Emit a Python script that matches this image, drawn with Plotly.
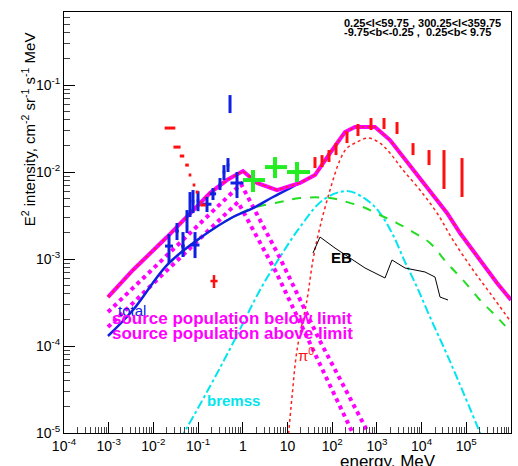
import numpy as np
import plotly.graph_objects as go

# ---------------- data (log10 of energy [MeV] and of E^2 intensity) ----------------
total_lx = [-3.016, -2.456, -1.696, -1.181, -0.734, -0.353, 0.004, 0.318, 0.765, 1.280, 1.615,
            1.951, 2.286, 2.510, 2.957, 3.293, 3.673, 4.121, 4.568, 4.859, 5.306, 5.687, 6.0]
total_ly = [-3.437, -3.126, -2.747, -2.471, -2.241, -2.092, -1.989, -2.126, -2.207, -2.126, -2.034,
            -1.782, -1.540, -1.483, -1.483, -1.632, -1.885, -2.172, -2.471, -2.701, -3.011, -3.276, -3.471]

diffuse_lx = [-3.016, -2.456, -1.696, -0.957, -0.219, 0.228, 0.676, 1.280, 1.615]
diffuse_ly = [-3.885, -3.586, -3.069, -2.759, -2.517, -2.414, -2.287, -2.126, -2.034]

ic_lx = [-1.696, -0.957, 0.094, 0.832, 1.280, 1.951, 2.331, 2.689, 3.069, 3.450, 3.808, 4.188,
         4.568, 4.926, 5.306, 5.597, 6.0]
ic_ly = [-3.069, -2.759, -2.437, -2.345, -2.299, -2.299, -2.345, -2.402, -2.494, -2.586, -2.690,
         -2.816, -3.046, -3.241, -3.471, -3.621, -3.839]

bremss_lx = [-1.405, -0.779, -0.219, 0.385, 0.832, 1.280, 1.794, 2.331, 2.779, 3.069, 3.360, 3.629,
             3.897, 4.188, 4.523, 4.814, 5.374]
bremss_ly = [-5.080, -4.506, -3.966, -3.356, -2.977, -2.632, -2.322, -2.218, -2.322, -2.471, -2.724,
             -3.034, -3.322, -3.667, -4.046, -4.391, -5.080]

pi0_lx = [1.011, 1.101, 1.213, 1.436, 1.570, 1.727, 1.951, 2.174, 2.331, 2.555, 2.801, 3.069, 3.293,
          3.584, 3.964, 4.345, 4.702, 5.150, 5.530, 6.0]
pi0_ly = [-5.08, -4.586, -4.046, -3.471, -3.011, -2.632, -2.207, -1.862, -1.724, -1.655, -1.609,
          -1.667, -1.782, -1.977, -2.207, -2.471, -2.782, -3.126, -3.391, -3.724]

eb_lx = [1.570, 1.727, 2.063, 2.398, 2.734, 3.181, 3.338, 3.629, 4.076, 4.300, 4.412, 4.591]
eb_ly = [-2.931, -2.747, -2.874, -2.989, -3.103, -3.218, -3.011, -3.103, -3.149, -3.207, -3.437, -3.471]

src_above_lx = [-3.016, -0.040, 0.832, 1.727, 2.890]
src_above_ly = [-3.609, -2.138, -2.989, -3.943, -5.080]
src_below_lx = [-3.016, -0.107, 0.743, 1.548, 2.532]
src_below_ly = [-3.782, -2.345, -3.149, -4.023, -5.080]

# blue data (log E, log I lo, log I hi, log I centre, half width in dex)
blue_lx = [-1.651, -1.472, -1.338, -1.248, -1.181, -1.069, -1.114, -1.002, -0.801, -0.667, -0.510,
           -0.421, -0.331, -0.130, -0.286]
blue_lo = [-3.046, -2.782, -2.977, -2.701, -2.517, -2.989, -2.471, -2.450, -2.460, -2.322, -2.207,
           -2.092, -2.000, -2.299, -1.322]
blue_hi = [-2.713, -2.586, -2.690, -2.437, -2.230, -2.690, -2.207, -2.220, -2.287, -2.184, -2.069,
           -1.920, -1.839, -2.000, -1.115]
blue_c = [-2.851, -2.678, -2.851, -2.570, -2.370, -2.839, -2.340, -2.330, -2.370, -2.250, -2.140,
          -2.000, -1.920, -2.126, -1.220]
blue_xw = [0.09, 0.04, 0.04, 0.0, 0.0, 0.10, 0.03, 0.03, 0.10, 0.07, 0.03, 0.03, 0.03, 0.145, 0.0]

# red high-energy bars
red_lx = [1.615, 1.772, 1.928, 2.085, 2.331, 2.577, 2.868, 3.159, 3.450, 3.808, 4.166, 4.501, 4.904]
red_lo = [-1.954, -1.943, -1.885, -1.805, -1.667, -1.586, -1.517, -1.506, -1.563, -1.805, -1.920,
          -2.195, -2.287]
red_hi = [-1.828, -1.805, -1.747, -1.667, -1.540, -1.448, -1.379, -1.379, -1.425, -1.667, -1.747,
          -1.747, -1.839]

# red low-energy dashes
redlow_lx = [-1.629, -1.472, -1.360, -1.248, -1.181, -1.092, -1.025, -0.890]
redlow_ly = [-1.494, -1.713, -1.816, -1.920, -2.034, -2.149, -2.230, -2.379]
redlow_xw = [0.12, 0.08, 0.05, 0.04, 0.03, 0.03, 0.03, 0.06]

# single red cross
redx_lx = [-0.644]
redx_ly = [-3.253]
redx_lo = [-3.333]
redx_hi = [-3.184]
redx_xw = [0.08]

# green crosses
green_lx = [0.228, 0.720, 1.213]
green_xlo = [0.004, 0.497, 0.989]
green_xhi = [0.497, 0.989, 1.503]
green_ly = [-2.092, -1.943, -2.000]
green_lo = [-2.230, -2.069, -2.115]
green_hi = [-1.977, -1.828, -1.885]

x_tick_exp = list(range(-4, 7))
y_tick_exp = list(range(-5, 0))


def p(a):
    return 10 ** np.asarray(a, dtype=float)


FONT = "Liberation Sans, Arial, Helvetica, sans-serif"
fig = go.Figure()


def line(lx, ly, color, width, dash="solid", shape="linear"):
    fig.add_trace(go.Scatter(x=p(lx), y=p(ly), mode="lines",
                             line=dict(color=color, width=width, dash=dash, shape=shape),
                             hoverinfo="skip", showlegend=False))


def points(lx, ly, color, thick, ylo=None, yhi=None, xlo=None, xhi=None):
    x = p(lx)
    y = p(ly)
    kw = {}
    if ylo is not None:
        kw["error_y"] = dict(type="data", symmetric=False, array=p(yhi) - y,
                             arrayminus=y - p(ylo), color=color, thickness=thick, width=0)
    if xlo is not None:
        kw["error_x"] = dict(type="data", symmetric=False, array=p(xhi) - x,
                             arrayminus=x - p(xlo), color=color, thickness=thick, width=0)
    fig.add_trace(go.Scatter(x=x, y=y, mode="markers",
                             marker=dict(size=1, color=color, opacity=0),
                             hoverinfo="skip", showlegend=False, **kw))


# model curves
line(bremss_lx, bremss_ly, "#00e5ee", 2, "dashdot", "spline")
line(ic_lx, ic_ly, "#22dd22", 2, "dash", "spline")
line(pi0_lx, pi0_ly, "#ff2020", 1.5, "dot", "spline")
line(eb_lx, eb_ly, "black", 1)
line(src_below_lx, src_below_ly, "#ff00ff", 4, "dot")
line(src_above_lx, src_above_ly, "#ff00ff", 4, "dot")
line(diffuse_lx, diffuse_ly, "#1020e0", 2.5, "solid", "spline")
line(total_lx, total_ly, "#ff00ff", 4, "solid")
line(total_lx, total_ly, "#ff2020", 1.5, "dot")

# data points
blo = np.array(blue_lx)
bxw = np.array(blue_xw)
points(blue_lx, blue_c, "#1020e0", 3, blue_lo, blue_hi, blo - bxw, blo + bxw)
rlo = np.array(redlow_lx)
rxw = np.array(redlow_xw)
points(redlow_lx, redlow_ly, "#ff1010", 3, None, None, rlo - rxw, rlo + rxw)
rc = (np.array(red_lo) + np.array(red_hi)) / 2
points(red_lx, rc, "#ff1010", 3, red_lo, red_hi)
xx = np.array(redx_lx)
points(redx_lx, redx_ly, "#ff1010", 2.5, redx_lo, redx_hi, xx - np.array(redx_xw), xx + np.array(redx_xw))
points(green_lx, green_ly, "#22ee22", 4, green_lo, green_hi, green_xlo, green_xhi)


def tick_text(e):
    if e == 0:
        return "1"
    if e == 1:
        return "10"
    return f"10<sup>{e}</sup>"


def minor_vals(lo, hi):
    out = []
    for e in range(lo, hi):
        for m in range(2, 10):
            out.append(m * 10.0 ** e)
    return out


fig.update_xaxes(type="log", range=[-4, 6], showgrid=False, zeroline=False,
                 showline=True, linecolor="black", linewidth=1, mirror=True,
                 tickvals=[10.0 ** e for e in x_tick_exp], ticktext=[tick_text(e) for e in x_tick_exp],
                 ticks="inside", ticklen=11, tickcolor="black", tickwidth=1,
                 minor=dict(tickvals=minor_vals(-4, 6), ticks="inside", ticklen=6,
                            tickcolor="#444", tickwidth=1, showgrid=False),
                 tickfont=dict(family=FONT, size=14, color="black"))
fig.update_yaxes(type="log", range=[-5, -0.16], showgrid=False, zeroline=False,
                 showline=True, linecolor="black", linewidth=1, mirror=True,
                 tickvals=[10.0 ** e for e in y_tick_exp], ticktext=[tick_text(e) for e in y_tick_exp],
                 ticks="inside", ticklen=11, tickcolor="black", tickwidth=1,
                 minor=dict(tickvals=minor_vals(-5, 0), ticks="inside", ticklen=6,
                            tickcolor="#444", tickwidth=1, showgrid=False),
                 tickfont=dict(family=FONT, size=14, color="black"))

ann = []


def label(text, x, y, color, size, bold=False, xanchor="center", xref="x", yref="y"):
    t = f"<b>{text}</b>" if bold else text
    ann.append(dict(text=t, x=x, y=y, xref=xref, yref=yref, showarrow=False,
                    xanchor=xanchor, yanchor="middle",
                    font=dict(family=FONT, size=size, color=color)))


label("total", -2.479, -3.586, "#1020e0", 15)
label("source population below limit", -2.971, -3.678, "#ff00ff", 17, True, "left")
label("source population above limit", -2.971, -3.851, "#ff00ff", 17, True, "left")
label("π<sup>0</sup>", 1.414, -4.103, "#ff1010", 15)
label("bremss", -0.219, -4.621, "#00e5ee", 15, True)
label("EB", 2.219, -2.977, "black", 15, True)
label("0.25&lt;l&lt;59.75 , 300.25&lt;l&lt;359.75", 0.622, 0.974, "black", 11, True, "left", "paper", "paper")
label("-9.75&lt;b&lt;-0.25 ,  0.25&lt;b&lt; 9.75", 0.622, 0.952, "black", 11, True, "left", "paper", "paper")
label("energy, MeV", 0.724, -0.068, "black", 17, False, "center", "paper", "paper")
ann.append(dict(text="E<sup>2</sup> intensity, cm<sup>-2</sup> sr<sup>-1</sup> s<sup>-1</sup> MeV",
                x=-0.08, y=0.722, xref="paper", yref="paper", showarrow=False, textangle=-90,
                xanchor="center", yanchor="middle", font=dict(family=FONT, size=15, color="black")))

fig.update_layout(width=518, height=466, margin=dict(l=64, r=7, t=12, b=33),
                  paper_bgcolor="white", plot_bgcolor="white", annotations=ann,
                  showlegend=False)

fig.write_html("out.html")
